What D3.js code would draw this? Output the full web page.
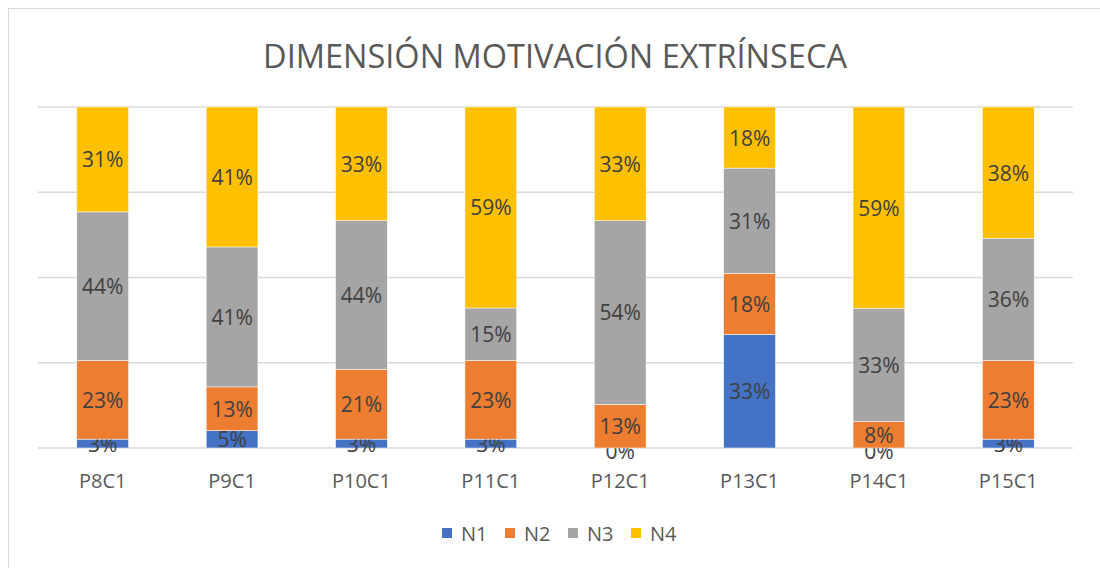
<!DOCTYPE html>
<html>
<head>
<meta charset="utf-8">
<script src="https://cdn.jsdelivr.net/npm/d3@7"></script>
<style>
  body { margin: 0; background: #fff; }
  text { font-family: "Open Sans", "Liberation Sans", sans-serif; }
</style>
</head>
<body>
<script>
const categories = ['P8C1', 'P9C1', 'P10C1', 'P11C1', 'P12C1', 'P13C1', 'P14C1', 'P15C1']
const seriesNames = ['N1', 'N2', 'N3', 'N4']
// percentages
const n1 = [2.6, 5.1, 2.6, 2.6, 0, 33.3, 0, 2.6]
const n2 = [23.1, 12.8, 20.5, 23.1, 12.8, 17.9, 7.7, 23.1]
const n3 = [43.6, 41.0, 43.6, 15.4, 53.8, 30.8, 33.3, 35.9]
const n4 = [30.8, 41.0, 33.3, 59.0, 33.3, 17.9, 59.0, 38.5]
const yTicks = [0, 0.25, 0.5, 0.75, 1]
const title = 'DIMENSIÓN MOTIVACIÓN EXTRÍNSECA'

const colors = ['#4472C4', '#ED7D31', '#A5A5A5', '#FFC000']
const width = 1100
const height = 568
const margin = { top: 107, right: 27, bottom: 120, left: 38 }

const rows = categories.map((c, i) => ({
	cat: c, N1: n1[i], N2: n2[i], N3: n3[i], N4: n4[i]
}))

const stacked = d3.stack()
	.keys(seriesNames)
	.offset(d3.stackOffsetExpand)(rows)

const svg = d3.select('body')
	.append('svg')
	.attr('width', width)
	.attr('height', height)

svg.append('rect')
	.attr('x', 8.5)
	.attr('y', 8.5)
	.attr('width', width)
	.attr('height', height)
	.attr('fill', 'none')
	.attr('stroke', '#d9d9d9')

const xScale = d3.scaleBand()
	.domain(categories)
	.range([margin.left, width - margin.right])
	.paddingInner(0.6)
	.paddingOuter(0.3)

const yScale = d3.scaleLinear()
	.domain([0, 1])
	.range([height - margin.bottom, margin.top])

svg.append('g')
	.selectAll('line')
	.data(yTicks)
	.enter()
	.append('line')
	.attr('x1', margin.left)
	.attr('x2', width - margin.right)
	.attr('y1', d => yScale(d))
	.attr('y2', d => yScale(d))
	.attr('stroke', '#d9d9d9')
	.attr('stroke-width', 1.3)

const layers = svg.append('g')
	.selectAll('g')
	.data(stacked)
	.enter()
	.append('g')
	.attr('fill', (d, i) => colors[i])

layers.selectAll('rect')
	.data(d => d)
	.enter()
	.append('rect')
	.attr('x', d => xScale(d.data.cat))
	.attr('width', xScale.bandwidth())
	.attr('y', d => yScale(d[1]))
	.attr('height', d => yScale(d[0]) - yScale(d[1]))
	.attr('stroke', '#fff')
	.attr('stroke-width', 0.5)

const fmt = d3.format('.0%')
layers.selectAll('text')
	.data(d => d)
	.enter()
	.append('text')
	.attr('x', d => xScale(d.data.cat) + xScale.bandwidth() / 2)
	.attr('y', d => (yScale(d[0]) + yScale(d[1])) / 2 + (d[1] - d[0] === 0 ? 3 : 0))
	.attr('text-anchor', 'middle')
	.attr('dominant-baseline', 'central')
	.attr('fill', '#404040')
	.attr('font-size', 21)
	.text(d => fmt(d[1] - d[0]))

// axis labels
svg.append('g')
	.selectAll('text')
	.data(categories)
	.enter()
	.append('text')
	.attr('x', d => xScale(d) + xScale.bandwidth() / 2)
	.attr('y', 480)
	.attr('text-anchor', 'middle')
	.attr('dominant-baseline', 'central')
	.attr('fill', '#595959')
	.attr('font-size', 20)
	.text(d => d)

svg.append('text')
	.attr('x', 555)
	.attr('y', 55)
	.attr('text-anchor', 'middle')
	.attr('dominant-baseline', 'central')
	.attr('fill', '#595959')
	.attr('font-size', 32.5)
	.text(title)

// legend
const legend = svg.append('g')
	.selectAll('g')
	.data(seriesNames)
	.enter()
	.append('g')
	.attr('transform', (d, i) => `translate(${442 + i * 63},533)`)

legend.append('rect')
	.attr('x', 0)
	.attr('y', -5)
	.attr('width', 10)
	.attr('height', 10)
	.attr('fill', (d, i) => colors[i])

legend.append('text')
	.attr('x', 19)
	.attr('y', 0)
	.attr('dominant-baseline', 'central')
	.attr('fill', '#595959')
	.attr('font-size', 20)
	.text(d => d)
</script>
</body>
</html>
